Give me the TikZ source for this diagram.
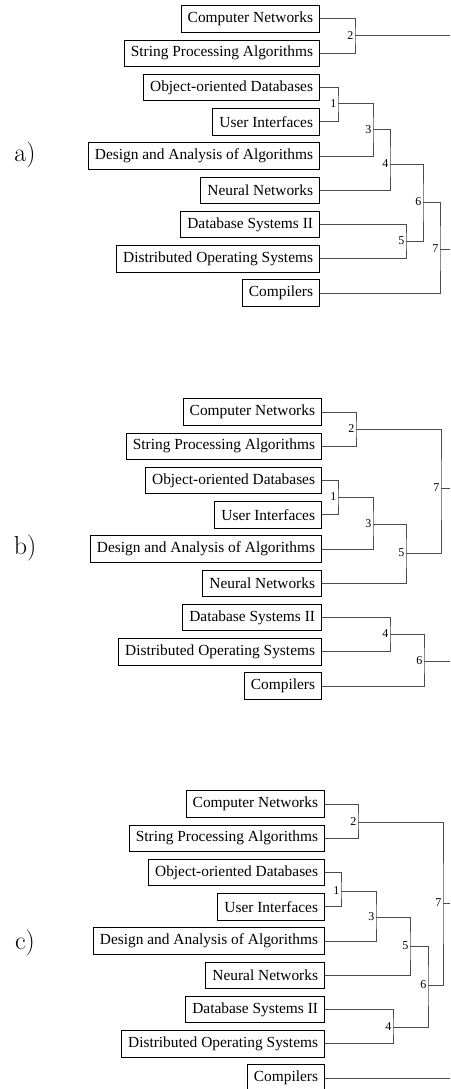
\documentclass[tikz,border=0pt]{standalone}
\usepackage{fontspec}
\newfontfamily\coursefont{Liberation Serif}

\begin{document}
\begin{tikzpicture}[x=1pt,y=-1pt,
    course/.style={draw,anchor=east,line width=0.9pt,inner xsep=6.5pt,minimum height=26.5pt,
      font=\coursefont\fontsize{15.4}{18}\selectfont},
    link/.style={draw=black!70,line width=1pt},
    level/.style={anchor=east,inner sep=1.5pt,font=\coursefont\fontsize{12}{14}\selectfont},
    panel/.style={font=\fontsize{26}{30}\selectfont}]
\useasboundingbox (0,0) rectangle (450,1089);
\coordinate (out) at (450,0);

% a)
\node[panel] (la) at (25,155) {a)};
\foreach \name [count=\i] in {Computer Networks,String Processing Algorithms,Object-oriented Databases\ ,User Interfaces,Design and Analysis of Algorithms,Neural Networks,Database Systems II,Distributed Operating Systems,Compilers}
  \node[course] (a\i) at (320,{19+34.25*(\i-1)}) {\name};
\coordinate (a-j1) at (338,104);
\coordinate (a-j2) at (355,36);
\coordinate (a-j3) at (373,130);
\coordinate (a-j4) at (390,164);
\coordinate (a-j5) at (406,241);
\coordinate (a-j6) at (423,202);
\coordinate (a-j7) at (440,249);
\draw[link] (a1.east) -| (a-j2) |- (a2.east);
\draw[link] (a3.east) -| (a-j1) |- (a4.east);
\draw[link] (a-j1) -| (a-j3) |- (a5.east);
\draw[link] (a-j3) -| (a-j4) |- (a6.east);
\draw[link] (a7.east) -| (a-j5) |- (a8.east);
\draw[link] (a-j4) -| (a-j6) |- (a-j5);
\draw[link] (a-j6) -| (a-j7) |- (a9.east);
\draw[link] (a-j2) -- (a-j2 -| out);
\draw[link] (a-j7) -- (a-j7 -| out);
\foreach \j in {1,...,7}
  \node[level] at (a-j\j) {\j};

% b)
\node[panel] (lb) at (25,548) {b)};
\foreach \name [count=\i] in {Computer Networks,String Processing Algorithms,Object-oriented Databases\ ,User Interfaces,Design and Analysis of Algorithms,Neural Networks,Database Systems II,Distributed Operating Systems,Compilers}
  \node[course] (b\i) at (322,{412+34.25*(\i-1)}) {\name};
\coordinate (b-j1) at (338,497);
\coordinate (b-j2) at (356,429);
\coordinate (b-j3) at (373,524);
\coordinate (b-j4) at (390,634);
\coordinate (b-j5) at (406,553);
\coordinate (b-j6) at (424,661);
\coordinate (b-j7) at (441,488);
\draw[link] (b1.east) -| (b-j2) |- (b2.east);
\draw[link] (b3.east) -| (b-j1) |- (b4.east);
\draw[link] (b-j1) -| (b-j3) |- (b5.east);
\draw[link] (b-j3) -| (b-j5) |- (b6.east);
\draw[link] (b-j2) -| (b-j7) |- (b-j5);
\draw[link] (b7.east) -| (b-j4) |- (b8.east);
\draw[link] (b-j4) -| (b-j6) |- (b9.east);
\draw[link] (b-j7) -- (b-j7 -| out);
\draw[link] (b-j6) -- (b-j6 -| out);
\foreach \j in {1,...,7}
  \node[level] at (b-j\j) {\j};

% c)
\node[panel] (lc) at (25,943) {c)};
\foreach \name [count=\i] in {Computer Networks,String Processing Algorithms,Object-oriented Databases\ ,User Interfaces,Design and Analysis of Algorithms,Neural Networks,Database Systems II,Distributed Operating Systems,Compilers}
  \node[course] (c\i) at (325,{804+34.25*(\i-1)}) {\name};
\coordinate (c-j1) at (341,891);
\coordinate (c-j2) at (358,822);
\coordinate (c-j3) at (376,917);
\coordinate (c-j4) at (393,1027);
\coordinate (c-j5) at (410,946);
\coordinate (c-j6) at (428,985);
\coordinate (c-j7) at (443,903);
\draw[link] (c1.east) -| (c-j2) |- (c2.east);
\draw[link] (c3.east) -| (c-j1) |- (c4.east);
\draw[link] (c-j1) -| (c-j3) |- (c5.east);
\draw[link] (c-j3) -| (c-j5) |- (c6.east);
\draw[link] (c7.east) -| (c-j4) |- (c8.east);
\draw[link] (c-j5) -| (c-j6) |- (c-j4);
\draw[link] (c-j2) -| (c-j7) |- (c-j6);
\draw[link] (c-j7) -- (c-j7 -| out);
\draw[link] (c9.east) -- (c9.east -| out);
\foreach \j in {1,...,7}
  \node[level] at (c-j\j) {\j};
\end{tikzpicture}
\end{document}
